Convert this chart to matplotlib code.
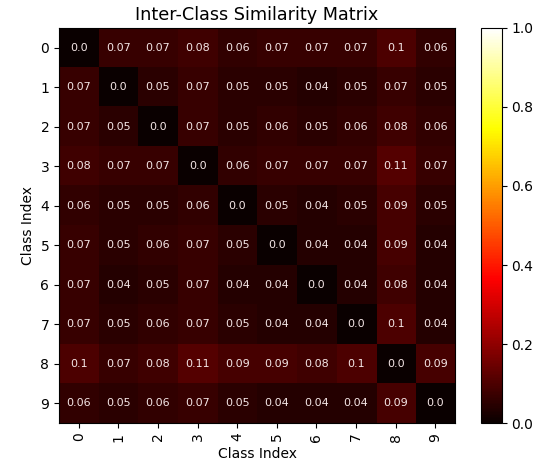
import numpy as np
import matplotlib
matplotlib.use('Agg')
import matplotlib.pyplot as plt

# %% similarity values
classes = [str(i) for i in range(10)]
sim = np.array([
    [0.0, 0.07, 0.07, 0.08, 0.06, 0.07, 0.07, 0.07, 0.1, 0.06],
    [0.07, 0.0, 0.05, 0.07, 0.05, 0.05, 0.04, 0.05, 0.07, 0.05],
    [0.07, 0.05, 0.0, 0.07, 0.05, 0.06, 0.05, 0.06, 0.08, 0.06],
    [0.08, 0.07, 0.07, 0.0, 0.06, 0.07, 0.07, 0.07, 0.11, 0.07],
    [0.06, 0.05, 0.05, 0.06, 0.0, 0.05, 0.04, 0.05, 0.09, 0.05],
    [0.07, 0.05, 0.06, 0.07, 0.05, 0.0, 0.04, 0.04, 0.09, 0.04],
    [0.07, 0.04, 0.05, 0.07, 0.04, 0.04, 0.0, 0.04, 0.08, 0.04],
    [0.07, 0.05, 0.06, 0.07, 0.05, 0.04, 0.04, 0.0, 0.1, 0.04],
    [0.1, 0.07, 0.08, 0.11, 0.09, 0.09, 0.08, 0.1, 0.0, 0.09],
    [0.06, 0.05, 0.06, 0.07, 0.05, 0.04, 0.04, 0.04, 0.09, 0.0],
])

fig = plt.figure(figsize=(5.39, 4.65), dpi=100)
ax = fig.add_axes([0.1095, 0.0903, 0.7347, 0.8495])
cax = fig.add_axes([0.892, 0.0903, 0.039, 0.8495])

im = ax.imshow(sim, cmap='hot', vmin=0, vmax=1, aspect='auto')
for i in range(sim.shape[0]):
    for j in range(sim.shape[1]):
        ax.text(j, i, '{}'.format(sim[i, j]), ha='center', va='center', color='#f4e6e6', fontsize=8)

ax.set_xticks(range(10))
ax.set_xticklabels(classes, rotation=90)
ax.set_yticks(range(10))
ax.set_yticklabels(classes)
ax.set_xlabel('Class Index')
ax.set_ylabel('Class Index')
ax.set_title('Inter-Class Similarity Matrix', fontsize=12.7)
fig.colorbar(im, cax=cax)

plt.savefig('out.png', dpi=100)
